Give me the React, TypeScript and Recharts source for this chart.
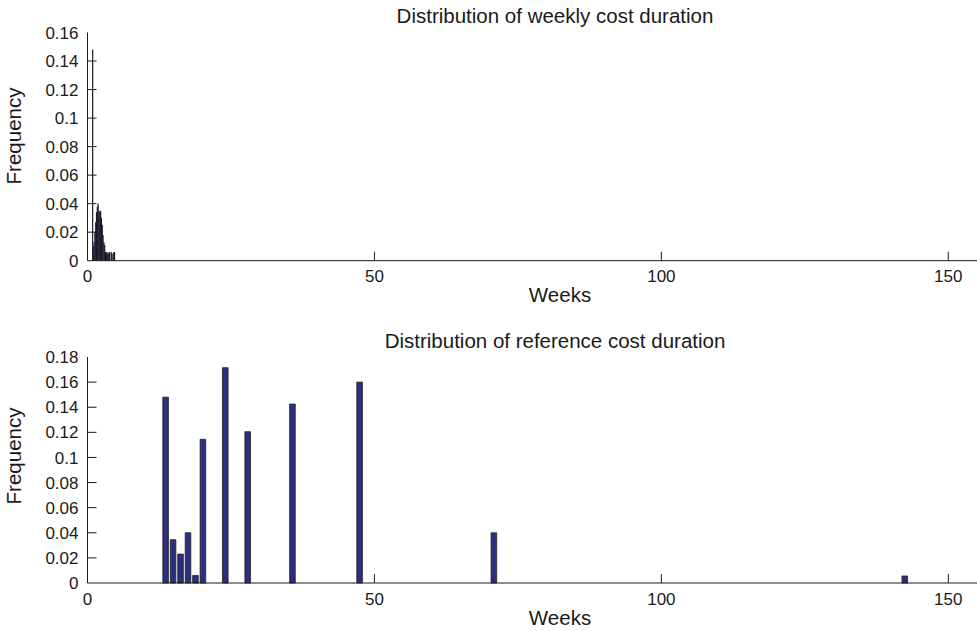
import React from 'react';
import { ComposedChart, Bar, XAxis, YAxis } from 'recharts';

// Top panel: weekly cost duration histogram (weeks -> frequency)
const weeklyWeeks = [0.9, 1.0, 1.14, 1.29, 1.43, 1.57, 1.71, 1.86, 2.0, 2.14, 2.29, 2.43, 2.57, 2.71, 2.86, 3.0, 3.14, 3.29, 3.43, 3.57, 3.71, 3.86, 4.0, 4.14, 4.29, 4.43, 4.57, 4.71];
const weeklyFreq = [0.148, 0.010, 0.013, 0.020, 0.027, 0.034, 0.038, 0.040, 0.035, 0.034, 0.035, 0.030, 0.025, 0.018, 0.013, 0.011, 0.006, 0.006, 0.005, 0.006, 0.005, 0.006, 0.0, 0.006, 0.005, 0.0, 0.006, 0.006];

// Bottom panel: reference cost duration histogram
const refWeeks = [13.6, 14.9, 16.2, 17.5, 18.8, 20.1, 24.0, 27.9, 35.7, 47.4, 70.8, 142.4];
const refFreq = [0.148, 0.0345, 0.023, 0.040, 0.006, 0.1145, 0.1715, 0.1205, 0.1425, 0.160, 0.040, 0.0056];

const xTicks = [0, 50, 100, 150];
const yTicksTop = [0, 0.02, 0.04, 0.06, 0.08, 0.1, 0.12, 0.14, 0.16];
const yTicksBottom = [0, 0.02, 0.04, 0.06, 0.08, 0.1, 0.12, 0.14, 0.16, 0.18];

const topTitle = 'Distribution of weekly cost duration';
const bottomTitle = 'Distribution of reference cost duration';
const xLabel = 'Weeks';
const yLabel = 'Frequency';

const topData = weeklyWeeks.map((w, i) => ({ week: w, freq: weeklyFreq[i] }));
const bottomData = refWeeks.map((w, i) => ({ week: w, freq: refFreq[i] }));

const FONT = '"Liberation Sans", Arial, Helvetica, sans-serif';
const INK = '#1a1a1a';
const TICK = 17;
const LABEL = 20.5;

const fmt = (v: number) => String(Number(v.toFixed(2)));

const XTick = (props: any) => {
  const { x, y, payload } = props;
  const v = payload.value;
  return (
    <g>
      {v !== 0 && <line x1={x} x2={x} y1={y} y2={y - 9} stroke={INK} strokeWidth={1} />}
      <text x={x} y={y + 21.5} textAnchor="middle" fontSize={TICK} fontFamily={FONT} fill={INK}>
        {v}
      </text>
    </g>
  );
};

const makeYTick = (top: number) => (props: any) => {
  const { x, y, payload } = props;
  const v = payload.value;
  return (
    <g>
      {v !== 0 && v !== top && <line x1={x} x2={x + 9} y1={y} y2={y} stroke={INK} strokeWidth={1} />}
      <text x={x - 9} y={y} dy="0.36em" textAnchor="end" fontSize={TICK} fontFamily={FONT} fill={INK}>
        {fmt(v)}
      </text>
    </g>
  );
};

const ThinBar = (p: any) => {
  if (!p.height || p.height <= 0) return <g />;
  const cx = p.x + p.width / 2;
  return <rect x={cx - 0.6} y={p.y} width={1.2} height={p.height} fill="#18182a" />;
};

const W = 977;

export default function App() {
  return (
    <div style={{ position: 'absolute', left: 0, top: 0, width: W, height: 631, background: '#fff', overflow: 'hidden' }}>
      <div style={{ position: 'absolute', left: 0, top: 0 }}>
        <ComposedChart
          width={W}
          height={315}
          data={topData}
          margin={{ top: 32.5, right: 0, bottom: 24.3, left: 27.5 }}
        >
          <XAxis
            type="number"
            dataKey="week"
            domain={[0, 155]}
            ticks={xTicks}
            allowDataOverflow
            height={30}
            tickSize={0}
            tickMargin={0}
            tickLine={false}
            axisLine={{ stroke: INK, strokeWidth: 1 }}
            tick={<XTick />}
            interval={0}
          />
          <YAxis
            type="number"
            domain={[0, 0.16]}
            ticks={yTicksTop}
            width={60}
            tickSize={0}
            tickMargin={0}
            tickLine={false}
            axisLine={{ stroke: INK, strokeWidth: 1 }}
            tick={makeYTick(0.16)}
            interval={0}
          />
          <Bar dataKey="freq" isAnimationActive={false} shape={ThinBar} />
        </ComposedChart>
      </div>
      <div style={{ position: 'absolute', left: 0, top: 316 }}>
        <ComposedChart
          width={W}
          height={315}
          data={bottomData}
          margin={{ top: 41, right: 0, bottom: 18, left: 27.5 }}
        >
          <XAxis
            type="number"
            dataKey="week"
            domain={[0, 155]}
            ticks={xTicks}
            allowDataOverflow
            height={30}
            tickSize={0}
            tickMargin={0}
            tickLine={false}
            axisLine={{ stroke: INK, strokeWidth: 1 }}
            tick={<XTick />}
            interval={0}
          />
          <YAxis
            type="number"
            domain={[0, 0.18]}
            ticks={yTicksBottom}
            width={60}
            tickSize={0}
            tickMargin={0}
            tickLine={false}
            axisLine={{ stroke: INK, strokeWidth: 1 }}
            tick={makeYTick(0.18)}
            interval={0}
          />
          <Bar dataKey="freq" barSize={5.6} fill="#2b2f80" stroke="#202020" strokeWidth={0.8} isAnimationActive={false} />
        </ComposedChart>
      </div>
      <svg width={W} height={631} style={{ position: 'absolute', left: 0, top: 0, pointerEvents: 'none' }}>
        <g fontFamily={FONT} fill={INK} fontSize={LABEL}>
          <text x={555} y={22.5} textAnchor="middle">{topTitle}</text>
          <text x={560} y={302} textAnchor="middle">{xLabel}</text>
          <text transform="translate(21,136) rotate(-90)" textAnchor="middle">{yLabel}</text>
          <text x={555} y={347.5} textAnchor="middle">{bottomTitle}</text>
          <text x={560} y={625} textAnchor="middle">{xLabel}</text>
          <text transform="translate(21,456) rotate(-90)" textAnchor="middle">{yLabel}</text>
        </g>
      </svg>
    </div>
  );
}
